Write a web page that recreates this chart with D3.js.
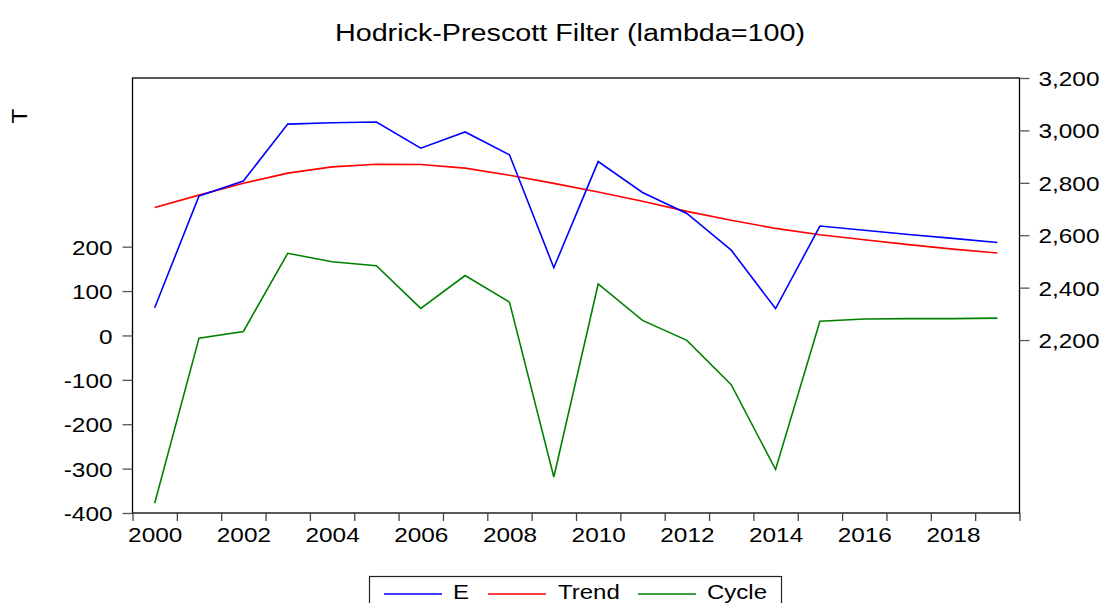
<!DOCTYPE html>
<html><head><meta charset="utf-8">
<script src="https://cdn.jsdelivr.net/npm/d3@7"></script>
<style>
html,body{margin:0;padding:0;background:#fff;}
svg{display:block;font-family:"Liberation Sans",Arial,sans-serif;}
</style></head>
<body>
<svg id="chart" width="1103" height="603"></svg>
<script>
const years = [2000,2001,2002,2003,2004,2005,2006,2007,2008,2009,2010,2011,2012,2013,2014,2015,2016,2017,2018,2019];
const eValues = [2323,2750,2807,3024,3029,3032,2932,2994,2907,2476,2881,2763,2683,2543,2320,2635,2619,2603,2588,2572];
const trendValues = [2706,2753,2798,2837,2861,2871,2870,2856,2829,2798,2765,2730,2691,2657,2626,2602,2583,2564,2547,2532];
const cycleValues = [-378,-6,9,185,166,157,61,135,75,-319,116,34,-11,-111,-302,32,37,38,38,39];
const xTickLabels = [2000,2002,2004,2006,2008,2010,2012,2014,2016,2018];
const leftTicks = [-400,-300,-200,-100,0,100,200];
const rightTicks = [2200,2400,2600,2800,3000,3200];
const seriesNames = ["E","Trend","Cycle"];
const seriesColors = ["#0000ff","#ff0000","#008000"];
const titleText = "Hodrick-Prescott Filter (lambda=100)";
const yLabel = "T";

const svg = d3.select("#chart");
const L = 132.5, R = 1019.5, T = 78, B = 513;
const SX = 1.16;
const FONT = "Liberation Sans, Arial, sans-serif";

const x = d3.scaleLinear().domain([1999.5, 2019.5]).range([L, R]);
const yL = d3.scaleLinear().domain([-400, 580]).range([B, T]);
const yR = d3.scaleLinear().domain([1540, 3200]).range([B, T]);

// frame
svg.append("rect").attr("x", L).attr("y", T).attr("width", R - L).attr("height", B - T)
  .attr("fill", "none").attr("stroke", "#000").attr("stroke-width", 1.3);

// x axis ticks at year boundaries
const bounds = d3.range(1999.5, 2020, 1);
const xAxisTicks = svg.append("g").attr("transform", `translate(0,${B})`)
  .call(d3.axisBottom(x).tickValues(bounds).tickSize(8).tickFormat(""));
xAxisTicks.select(".domain").remove();
xAxisTicks.selectAll("line").attr("stroke", "#444").attr("stroke-width", 1.3);

const xLab = svg.append("g").attr("transform", `translate(0,${B})`)
  .call(d3.axisBottom(x).tickValues(xTickLabels).tickSize(0).tickFormat(d => String(d)));
xLab.select(".domain").remove();
xLab.selectAll("text").attr("y", 29).attr("dy", "0").attr("font-size", 21)
  .attr("font-family", FONT).attr("fill", "#000")
  .attr("transform", `scale(${SX},1)`);

// left axis (hyphen-minus as in reference)
const la = svg.append("g").attr("transform", `translate(${L},0)`)
  .call(d3.axisLeft(yL).tickValues(leftTicks).tickSize(10).tickFormat(d => String(d)));
la.select(".domain").remove();
la.selectAll("line").attr("stroke", "#555").attr("stroke-width", 1.3);
la.selectAll("text").attr("x", -20 / SX).attr("dy", "0.36em").attr("font-size", 21)
  .attr("font-family", FONT).attr("fill", "#000")
  .attr("transform", `scale(${SX},1)`);

// right axis
const ra = svg.append("g").attr("transform", `translate(${R},0)`)
  .call(d3.axisRight(yR).tickValues(rightTicks).tickSize(10).tickFormat(d3.format(",")));
ra.select(".domain").remove();
ra.selectAll("line").attr("stroke", "#555").attr("stroke-width", 1.3);
ra.selectAll("text").attr("x", 19 / SX).attr("dy", "0.36em").attr("font-size", 21)
  .attr("font-family", FONT).attr("fill", "#000")
  .attr("transform", `scale(${SX},1)`);

// lines
const lineR = d3.line().x((d, i) => x(years[i])).y(d => yR(d));
const lineL = d3.line().x((d, i) => x(years[i])).y(d => yL(d));
svg.append("path").datum(trendValues).attr("d", lineR).attr("fill", "none")
  .attr("stroke", seriesColors[1]).attr("stroke-width", 1.6);
svg.append("path").datum(eValues).attr("d", lineR).attr("fill", "none")
  .attr("stroke", seriesColors[0]).attr("stroke-width", 1.6);
svg.append("path").datum(cycleValues).attr("d", lineL).attr("fill", "none")
  .attr("stroke", seriesColors[2]).attr("stroke-width", 1.6);

// title
svg.append("text").attr("transform", `translate(570,40.5) scale(1.25,1)`)
  .attr("text-anchor", "middle").attr("font-size", 23).attr("fill", "#000").text(titleText);

// y label
svg.append("text").attr("transform", "translate(27,116) rotate(-90) scale(1.1,1)")
  .attr("text-anchor", "middle").attr("font-size", 22).attr("fill", "#000").text(yLabel);

// legend
const lg = svg.append("g");
lg.append("rect").attr("x", 369.5).attr("y", 576.5).attr("width", 412).attr("height", 40)
  .attr("fill", "#fff").attr("stroke", "#222").attr("stroke-width", 1.2);
const legLineX = [384, 488, 638];
const legTextX = [453, 558, 707];
seriesNames.forEach((n, i) => {
  lg.append("line").attr("x1", legLineX[i]).attr("x2", legLineX[i] + 58)
    .attr("y1", 594).attr("y2", 594).attr("stroke", seriesColors[i]).attr("stroke-width", 1.6);
  lg.append("text").attr("transform", `translate(${legTextX[i]},598.5) scale(1.2,1)`)
    .attr("font-size", 20).attr("fill", "#000").text(n);
});
</script>
</body></html>
